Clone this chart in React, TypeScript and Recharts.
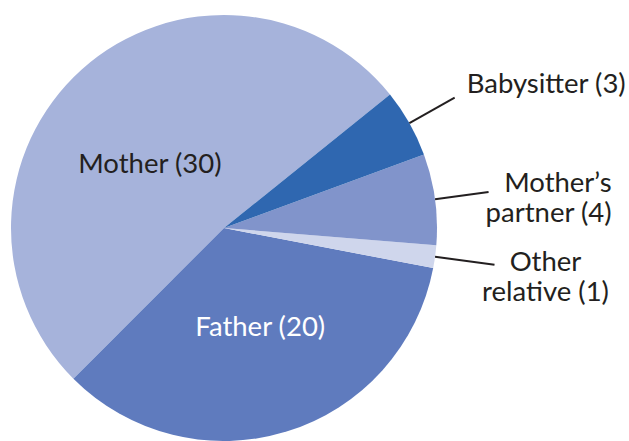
import React from "react";
import { PieChart, Pie, Cell } from "recharts";

const categories = ["Mother", "Father", "Other relative", "Mother’s partner", "Babysitter"];
const values = [30, 20, 1, 4, 3];
const colors = ["#a6b3db", "#5f7bbe", "#cfd6ec", "#8194cb", "#2f67b0"];
const labelLines: string[][] = [
  ["Mother (30)"],
  ["Father (20)"],
  ["Other", "relative (1)"],
  ["Mother’s", "partner (4)"],
  ["Babysitter (3)"],
];

const data = categories.map((name, i) => ({ name, value: values[i] }));

const RADIAN = Math.PI / 180;
const FONT = "Lato, 'Open Sans', sans-serif";
const FS = 27.5;
const LH = 30;

// label layout: inside (radius fraction + offsets) or outside (leader line + text offsets)
const layout: any[] = [
  { inside: true, r: 0.5, dx: -3, dy: 24, fill: "#231f20" },
  { inside: true, r: 0.5, dx: 5, dy: 6, fill: "#ffffff" },
  { inside: false, len: 60, dx: 51, dy: 6, anchor: "middle" },
  { inside: false, len: 54, dx: 123, dy: 0, anchor: "end" },
  { inside: false, len: 52, dx: 12, dy: -5, anchor: "start" },
];

const renderLabel = (props: any) => {
  const { cx, cy, midAngle, outerRadius, index } = props;
  const L = layout[index];
  const lines = labelLines[index];
  const cos = Math.cos(-midAngle * RADIAN);
  const sin = Math.sin(-midAngle * RADIAN);
  if (L.inside) {
    const x = cx + outerRadius * L.r * cos + L.dx;
    const y = cy + outerRadius * L.r * sin + L.dy;
    return (
      <text x={x} y={y} fill={L.fill} textAnchor="middle" fontFamily={FONT} fontSize={FS}>
        {lines[0]}
      </text>
    );
  }
  const sx = cx + outerRadius * cos;
  const sy = cy + outerRadius * sin;
  const ex = cx + (outerRadius + L.len) * cos;
  const ey = cy + (outerRadius + L.len) * sin;
  return (
    <g>
      <line x1={sx} y1={sy} x2={ex} y2={ey} stroke="#231f20" strokeWidth={2} />
      <text textAnchor={L.anchor} fontFamily={FONT} fontSize={FS} fill="#231f20">
        {lines.map((t, i) => (
          <tspan key={i} x={ex + L.dx} y={ey + L.dy + i * LH}>
            {t}
          </tspan>
        ))}
      </text>
    </g>
  );
};

export default function App() {
  return (
    <div style={{ position: "absolute", left: 0, top: 0, width: 629, height: 441, background: "#fff" }}>
      <PieChart width={629} height={441} margin={{ top: 0, right: 0, bottom: 0, left: 0 }}>
        <Pie
          data={data}
          dataKey="value"
          nameKey="name"
          cx={224}
          cy={228}
          outerRadius={213}
          startAngle={38.8}
          endAngle={398.8}
          stroke="none"
          label={renderLabel}
          labelLine={false}
          isAnimationActive={false}
        >
          {data.map((d, i) => (
            <Cell key={d.name} fill={colors[i]} />
          ))}
        </Pie>
      </PieChart>
    </div>
  );
}
